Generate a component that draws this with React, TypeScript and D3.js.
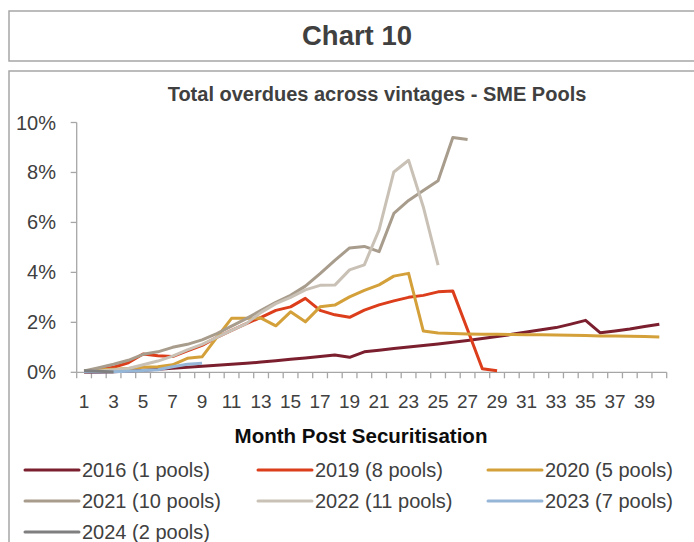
import * as d3 from "d3";
import React from "react";

const months = d3.range(1, 41);
const yTicks = [0, 2, 4, 6, 8, 10];

const s2016 = [0.0, 0.0, 0.02, 0.05, 0.08, 0.12, 0.16, 0.2, 0.24, 0.28, 0.32, 0.36, 0.41, 0.46, 0.52, 0.57, 0.63, 0.69, 0.6, 0.82, 0.88, 0.95, 1.01, 1.07, 1.13, 1.2, 1.27, 1.35, 1.43, 1.52, 1.61, 1.7, 1.79, 1.93, 2.08, 1.58, 1.65, 1.73, 1.83, 1.92];
const s2019 = [0.02, 0.1, 0.2, 0.38, 0.73, 0.66, 0.63, 0.86, 1.08, 1.4, 1.68, 1.95, 2.2, 2.48, 2.62, 2.96, 2.48, 2.3, 2.2, 2.49, 2.7, 2.86, 3.0, 3.08, 3.22, 3.25, 1.7, 0.14, 0.06];
const s2020 = [0.05, 0.1, 0.12, 0.15, 0.2, 0.22, 0.3, 0.56, 0.62, 1.4, 2.16, 2.16, 2.17, 1.86, 2.42, 2.02, 2.62, 2.69, 3.02, 3.28, 3.5, 3.85, 3.96, 1.65, 1.57, 1.55, 1.53, 1.52, 1.52, 1.51, 1.5, 1.5, 1.49, 1.48, 1.47, 1.45, 1.45, 1.44, 1.43, 1.41];
const s2021 = [0.05, 0.18, 0.32, 0.48, 0.72, 0.82, 1.0, 1.12, 1.3, 1.55, 1.85, 2.15, 2.48, 2.8, 3.08, 3.45, 3.95, 4.48, 4.98, 5.04, 4.83, 6.36, 6.88, 7.28, 7.67, 9.4, 9.32];
const s2022 = [0.02, 0.05, 0.1, 0.15, 0.3, 0.45, 0.65, 0.9, 1.12, 1.4, 1.68, 1.95, 2.4, 2.75, 3.0, 3.3, 3.48, 3.49, 4.1, 4.3, 5.7, 8.02, 8.49, 6.62, 4.29];
const s2023 = [0.02, 0.01, 0.02, 0.04, 0.07, 0.1, 0.22, 0.32, 0.36];
const s2024 = [0.06, 0.04, 0.01];

const seriesNames = ["2016 (1 pools)", "2019 (8 pools)", "2020 (5 pools)", "2021 (10 pools)", "2022 (11 pools)", "2023 (7 pools)", "2024 (2 pools)"];
const seriesValues = [s2016, s2019, s2020, s2021, s2022, s2023, s2024];
const seriesColors = ["#7b1f2e", "#dc3d1a", "#d4a03a", "#a89c8c", "#c9c1b5", "#95b6d6", "#7f7f7f"];

const font = "'Liberation Sans', Arial, sans-serif";
const axisColor = "#a6a6a6";
const textColor = "#404040";

export default function App() {
  const x = d3.scaleLinear().domain([0.5, 40.5]).range([76.7, 666.7]);
  const y = d3.scaleLinear().domain([0, 10]).range([372.3, 122.5]);

  const line = d3
    .line<number>()
    .x((d, i) => x(i + 1))
    .y((d) => y(d));

  const legendCols = [25, 258, 488];
  const legendRows = [470, 501, 532];

  return (
    <svg width={694} height={542} style={{ position: "absolute", left: 0, top: 0 }} fontFamily={font}>
      <rect x={0} y={0} width={694} height={542} fill="#fff" />
      <rect x={9} y={11} width={720} height={50} fill="none" stroke={axisColor} strokeWidth={1.5} />
      <rect x={9} y={71} width={720} height={520} fill="none" stroke={axisColor} strokeWidth={1.5} />
      <text x={357} y={45} textAnchor="middle" fontSize={27.5} fontWeight="bold" fill={textColor}>
        Chart 10
      </text>
      <text x={377} y={101} textAnchor="middle" fontSize={20} fontWeight="bold" fill={textColor}>
        Total overdues across vintages - SME Pools
      </text>

      {/* y axis */}
      <line x1={x(0.5)} x2={x(0.5)} y1={y(10)} y2={y(0)} stroke={axisColor} strokeWidth={1.3} />
      {yTicks.map((t) => (
        <g key={t}>
          <line x1={x(0.5) - 6} x2={x(0.5)} y1={y(t)} y2={y(t)} stroke={axisColor} strokeWidth={1.3} />
          <text x={56} y={y(t) + 7} textAnchor="end" fontSize={20} fill={textColor}>
            {t}%
          </text>
        </g>
      ))}

      {/* x axis */}
      <line x1={x(0.5)} x2={x(40.5)} y1={y(0)} y2={y(0)} stroke={axisColor} strokeWidth={1.3} />
      {d3.range(0, 41).map((i) => (
        <line key={i} x1={x(i + 0.5)} x2={x(i + 0.5)} y1={y(0)} y2={y(0) + 6} stroke={axisColor} strokeWidth={1.3} />
      ))}
      {months
        .filter((m) => m % 2 === 1)
        .map((m) => (
          <text key={m} x={x(m)} y={408} textAnchor="middle" fontSize={19} fill={textColor}>
            {m}
          </text>
        ))}
      <text x={361} y={443} textAnchor="middle" fontSize={20.5} fontWeight="bold" fill="#0d0d0d">
        Month Post Securitisation
      </text>

      {/* series */}
      {seriesValues.map((vals, i) => (
        <path key={i} d={line(vals) || ""} fill="none" stroke={seriesColors[i]} strokeWidth={3} strokeLinejoin="round" />
      ))}

      {/* legend */}
      {seriesNames.map((name, i) => {
        const lx = legendCols[i % 3];
        const ly = legendRows[Math.floor(i / 3)];
        return (
          <g key={name}>
            <line x1={lx} x2={lx + 54} y1={ly} y2={ly} stroke={seriesColors[i]} strokeWidth={3} strokeLinecap="round" />
            <text x={lx + 57} y={ly + 7} fontSize={20} fill={textColor}>
              {name}
            </text>
          </g>
        );
      })}
    </svg>
  );
}
